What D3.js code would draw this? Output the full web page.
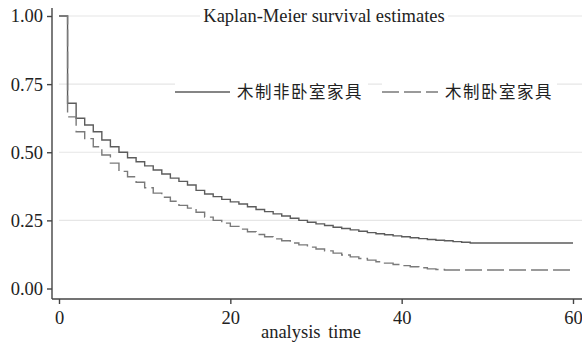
<!DOCTYPE html>
<html>
<head>
<meta charset="utf-8">
<script src="https://cdn.jsdelivr.net/npm/d3@7"></script>
<style>
  body { margin: 0; background: #fff; }
  svg { display: block; }
</style>
</head>
<body>
<svg id="chart" width="582" height="343"></svg>
<script>
// analysis time (step points), last one is end of follow-up
const times = [0, 1, 2, 3, 4, 5, 6, 7, 8, 9, 10, 11, 12, 13, 14, 15, 16, 17, 18, 19, 20,
  21, 22, 23, 24, 25, 26, 27, 28, 29, 30, 31, 32, 33, 34, 35, 36, 37, 38, 39, 40,
  41, 42, 43, 44, 45, 46, 47, 48, 60];

// 木制非卧室家具 (solid)
const nonBedroom = [1.0, 0.68, 0.625, 0.60, 0.575, 0.545, 0.52, 0.50, 0.48, 0.465, 0.45,
  0.435, 0.42, 0.405, 0.393, 0.38, 0.36, 0.347, 0.337, 0.327, 0.318,
  0.31, 0.30, 0.29, 0.282, 0.274, 0.266, 0.258, 0.25, 0.243, 0.237,
  0.231, 0.225, 0.22, 0.215, 0.21, 0.205, 0.201, 0.197, 0.193, 0.19,
  0.186, 0.183, 0.18, 0.177, 0.175, 0.172, 0.17, 0.167, 0.167];

// 木制卧室家具 (dashed)
const bedroom = [1.0, 0.63, 0.575, 0.55, 0.52, 0.49, 0.46, 0.43, 0.41, 0.39, 0.37,
  0.35, 0.335, 0.32, 0.305, 0.295, 0.28, 0.262, 0.25, 0.24, 0.228,
  0.218, 0.208, 0.198, 0.19, 0.182, 0.175, 0.167, 0.16, 0.152, 0.145,
  0.138, 0.13, 0.123, 0.116, 0.11, 0.104, 0.098, 0.093, 0.088, 0.084,
  0.08, 0.076, 0.072, 0.07, 0.068, 0.068, 0.068, 0.068, 0.068];

const xTicks = [0, 20, 40, 60];
const yTicks = [0, 0.25, 0.5, 0.75, 1];
const legendLabels = ["木制非卧室家具", "木制卧室家具"];

const svg = d3.select("#chart");
const serif = "'Liberation Serif', 'DejaVu Serif', serif";
const cjk = "'Noto Sans CJK SC', sans-serif";

// scales
const x = d3.scaleLinear().domain([0, 60]).range([59, 573]);
const y = d3.scaleLinear().domain([0, 1]).range([288.5, 16]);

// grid lines
svg.append("g")
  .selectAll("line")
  .data(yTicks.filter(d => d > 0))
  .join("line")
  .attr("x1", 59).attr("x2", 582)
  .attr("y1", d => y(d)).attr("y2", d => y(d))
  .attr("stroke", "#e6e6e6").attr("stroke-width", 1.2);

// y axis
const yAxis = svg.append("g")
  .attr("transform", "translate(52,0)")
  .call(d3.axisLeft(y).tickValues(yTicks).tickFormat(d3.format(".2f")).tickSize(5).tickSizeOuter(0));
yAxis.select(".domain").attr("d", "M0,8V299");
yAxis.selectAll("text").style("font-family", serif).style("font-size", "18.5px").attr("fill", "#222").attr("x", -9);

// x axis
const xAxis = svg.append("g")
  .attr("transform", "translate(0,299)")
  .call(d3.axisBottom(x).tickValues(xTicks).tickSize(5).tickSizeOuter(0));
xAxis.select(".domain").attr("d", "M52,0H582");
xAxis.selectAll("text").style("font-family", serif).style("font-size", "18.5px").attr("fill", "#222").attr("y", 12);
svg.selectAll(".domain, .tick line").attr("stroke", "#444").attr("stroke-width", 1.4);

svg.append("text")
  .attr("x", 311).attr("y", 338)
  .attr("text-anchor", "middle")
  .style("font-family", serif).style("font-size", "18.5px").attr("fill", "#222")
  .attr("word-spacing", 3)
  .text("analysis time");

// curves
const line = d3.line()
  .x(d => x(d[0]))
  .y(d => y(d[1]))
  .curve(d3.curveStepAfter);

svg.append("path")
  .datum(times.map((t, i) => [t, nonBedroom[i]]))
  .attr("d", line)
  .attr("fill", "none").attr("stroke", "#5c5c5c").attr("stroke-width", 1.4);

svg.append("path")
  .datum(times.map((t, i) => [t, bedroom[i]]))
  .attr("d", line)
  .attr("fill", "none").attr("stroke", "#7a7a7a").attr("stroke-width", 1.4)
  .attr("stroke-dasharray", "17,5");

// title
svg.append("rect").attr("x", 200).attr("y", 6).attr("width", 248).attr("height", 20).attr("fill", "#fff");
svg.append("text")
  .attr("x", 324).attr("y", 22)
  .attr("text-anchor", "middle")
  .style("font-family", serif).style("font-size", "18.5px").attr("fill", "#222")
  .text("Kaplan-Meier survival estimates");

// legend
const legend = [
  { x1: 175, x2: 230, tx: 237, dash: null, color: "#5c5c5c" },
  { x1: 382, x2: 438, tx: 445, dash: "17,5", color: "#7a7a7a" }
];
legend.forEach((d, i) => {
  const g = svg.append("g");
  g.append("rect").attr("x", d.x1).attr("y", 80).attr("width", (i ? 557 : 368) - d.x1).attr("height", 24).attr("fill", "#fff");
  g.append("line").attr("x1", d.x1).attr("x2", d.x2).attr("y1", 92).attr("y2", 92)
    .attr("stroke", d.color).attr("stroke-width", 1.4).attr("stroke-dasharray", d.dash);
  g.append("text").attr("x", d.tx).attr("y", 98)
    .style("font-family", cjk).style("font-size", "16.5px").attr("letter-spacing", 1.5).attr("fill", "#222")
    .text(legendLabels[i]);
});
</script>
</body>
</html>
